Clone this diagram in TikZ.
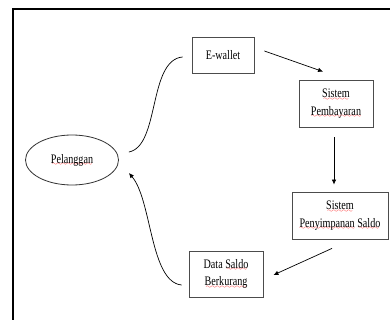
\documentclass[tikz,border=0pt]{standalone}
\usepackage{fontspec}
\setmainfont[FakeStretch=0.78]{Liberation Serif}
\usetikzlibrary{shapes.geometric,arrows.meta}
\font\wavyfont=lasy6
\newcommand\rw[1]{\setbox0\hbox{#1}\leavevmode\rlap{\color{red}\lower2.6pt\hbox to\wd0{\wavyfont\cleaders\hbox{\char58}\hfil}}\box0\relax}
\begin{document}
\begin{tikzpicture}[x=1pt,y=-1pt,
  box/.style={draw=black!70, line width=0.8pt, rectangle, align=center,
    font=\fontsize{13}{17.5}\selectfont, inner sep=0pt},
  oval/.style={draw=black!80, line width=0.8pt, ellipse, inner sep=0pt,
    font=\fontsize{13}{17.5}\selectfont},
  arr/.style={line width=0.7pt, -{Latex[length=5pt,width=4.5pt]}},
  link/.style={line width=0.7pt}]
\useasboundingbox (0,0) rectangle (390,320);
\clip (0,0) rectangle (390,320);
\fill[white] (0,0) rectangle (390,320);
\draw[line width=1.3pt] (13,9) rectangle (400,330);
\node[box, minimum width=62pt, minimum height=36pt] (ew) at (223,55) {E-wallet};
\node[box, minimum width=74pt, minimum height=47pt] (sp) at (336,103.5) {\rw{Sistem}\\\rw{Pembayaran}};
\node[box, minimum width=96pt, minimum height=47pt] (ss) at (340,215.5) {\rw{Sistem}\\\rw{Penyimpanan} \rw{Saldo}};
\node[box, minimum width=74pt, minimum height=46pt] (ds) at (226,274) {Data \rw{Saldo}\\\rw{Berkurang}};
\node[oval, minimum width=93pt, minimum height=50pt] (pel) at (72,160) {\rw{Pelanggan}};
\draw[arr] ([shift={(10,-4)}]ew.east) -- ([shift={(-13,-8)}]sp.north);
\draw[arr] ([shift={(-2,10)}]sp.south) -- ([shift={(-6,-7)}]ss.north);
\draw[arr] ([shift={(-8,9)}]ss.south) -- ([shift={(10,1)}]ds.east);
\draw[link] ([shift={(10,-8)}]pel.east) .. controls (160,146) and (148,60) .. ([shift={(-9,2)}]ew.west);
\draw[arr] ([shift={(-7,11)}]ds.west) .. controls (150,282) and (152,200) .. ([shift={(10,13)}]pel.east);
\end{tikzpicture}
\end{document}
